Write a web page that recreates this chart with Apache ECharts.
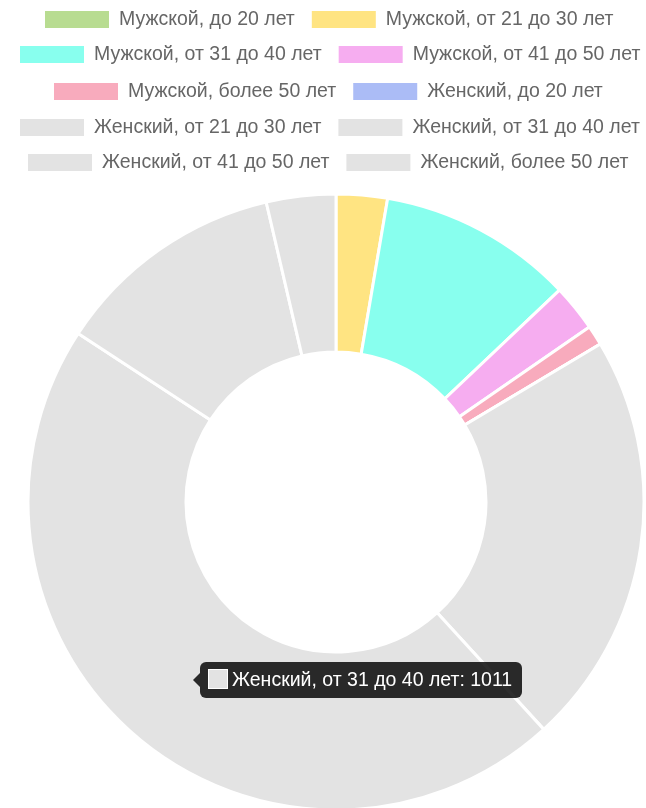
<!DOCTYPE html>
<html>
<head>
<meta charset="utf-8">
<script src="https://cdn.jsdelivr.net/npm/echarts@6/dist/echarts.min.js"></script>
<style>
  html, body { margin: 0; padding: 0; background: #fff; }
  #chart { width: 646px; height: 808px; }
</style>
</head>
<body>
<div id="chart"></div>
<script>
// категории (пол, возраст) и количество
const categories = [
  'Мужской, до 20 лет',
  'Мужской, от 21 до 30 лет',
  'Мужской, от 31 до 40 лет',
  'Мужской, от 41 до 50 лет',
  'Мужской, более 50 лет',
  'Женский, до 20 лет',
  'Женский, от 21 до 30 лет',
  'Женский, от 31 до 40 лет',
  'Женский, от 41 до 50 лет',
  'Женский, более 50 лет'
];
const values = [0, 59, 225, 54, 23, 0, 479, 1011, 267, 80];

// строки легенды (по два элемента)
const legendRows = [
  [categories[0], categories[1]],
  [categories[2], categories[3]],
  [categories[4], categories[5]],
  [categories[6], categories[7]],
  [categories[8], categories[9]]
];

const palette = [
  '#b8dc91', '#ffe482', '#88ffee', '#f6adf0', '#f8abbd',
  '#abbcf6', '#e3e3e3', '#e3e3e3', '#e3e3e3', '#e3e3e3'
];

const rowTops = [9, 44, 81, 117, 152];
const rowLefts = [43, 18, 52, 18, 26];

const chart = echarts.init(document.getElementById('chart'));

const legends = legendRows.map((row, i) => ({
  data: row,
  top: rowTops[i],
  left: rowLefts[i],
  orient: 'horizontal',
  padding: 0,
  itemGap: 15,
  itemWidth: 66,
  itemHeight: 19,
  icon: 'rect',
  selectedMode: false,
  textStyle: {
    color: '#666',
    fontFamily: 'Liberation Sans, Arial, sans-serif',
    fontSize: 19.5,
    lineHeight: 20,
    padding: [0, 0, 0, 4]
  }
}));

chart.setOption({
  animation: false,
  color: palette,
  legend: legends,
  tooltip: {
    trigger: 'item',
    triggerOn: 'none',
    alwaysShowContent: true,
    position: [200, 662],
    backgroundColor: 'rgba(0,0,0,0.82)',
    borderWidth: 0,
    padding: [6, 10, 6, 8],
    extraCssText: 'box-shadow:none;border-radius:6px;',
    formatter: (p) =>
      '<div style="position:absolute;left:-7px;top:50%;margin-top:-7px;width:0;height:0;' +
      'border-top:7px solid transparent;border-bottom:7px solid transparent;' +
      'border-right:7px solid rgba(0,0,0,0.82);"></div>' +
      '<span style="display:inline-block;vertical-align:-3px;width:18px;height:18px;' +
      'background:' + p.color + ';border:1px solid #fff;margin-right:4px;"></span>' +
      '<span style="color:#fff;font-family:Liberation Sans, Arial, sans-serif;font-size:19.5px;line-height:23px;">' +
      p.name + ': ' + p.value + '</span>'
  },
  series: [
    {
      type: 'pie',
      center: [336, 502],
      radius: [150, 308],
      startAngle: 90,
      clockwise: true,
      avoidLabelOverlap: false,
      label: { show: false },
      labelLine: { show: false },
      itemStyle: {
        borderColor: '#fff',
        borderWidth: 3
      },
      emphasis: { disabled: true },
      data: categories.map((name, i) => ({ name: name, value: values[i] }))
    }
  ]
});

chart.dispatchAction({ type: 'showTip', seriesIndex: 0, dataIndex: 7 });
</script>
</body>
</html>
